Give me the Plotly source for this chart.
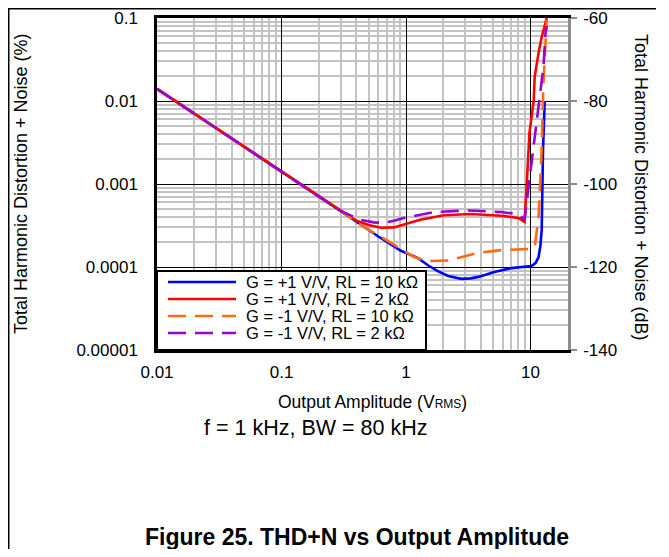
import plotly.graph_objects as go
import math

# ---------------- data ----------------
blue_x = [0.01, 0.03, 0.1, 0.3, 0.6, 0.91, 1.25, 1.5, 1.8, 2.18, 2.78, 3.3, 3.81, 5.13, 7.03, 10.2, 11.0, 11.6, 12.0, 12.3, 12.6, 12.8, 13.0]
blue_y = [0.014, 0.0047, 0.0014, 0.00047, 0.000233, 0.000157, 0.000128, 0.000105, 0.000089, 0.000078, 0.000072, 0.000073, 0.000076, 0.000087, 0.000097, 0.000103, 0.000112, 0.000132, 0.00018, 0.00028, 0.0026, 0.0055, 0.01]

red_x = [0.01, 0.03, 0.1, 0.3, 0.4, 0.5, 0.63, 0.8, 1.0, 1.3, 1.7, 2.02, 3.3, 5.84, 8.0, 8.95, 9.3, 9.8, 10.6, 10.8, 11.6, 12.3, 13.5]
red_y = [0.014, 0.0047, 0.0014, 0.00047, 0.00036, 0.00032, 0.000297, 0.0003, 0.00033, 0.00037, 0.0004, 0.00042, 0.000435, 0.000415, 0.00039, 0.00035, 0.00092, 0.0041, 0.01, 0.0195, 0.038, 0.059, 0.1]

orange_x = [0.01, 0.03, 0.1, 0.3, 0.5, 0.665, 0.8, 1.0, 1.16, 1.5, 2.18, 3.81, 5.84, 9.64, 10.8, 11.6, 12.3, 12.7, 13.2, 13.5]
orange_y = [0.014, 0.0047, 0.0014, 0.00047, 0.00028, 0.00022, 0.000185, 0.000152, 0.000132, 0.000118, 0.00012, 0.000148, 0.00016, 0.000165, 0.000173, 0.0004, 0.0026, 0.0165, 0.066, 0.095]

purple_x = [0.01, 0.03, 0.1, 0.3, 0.434, 0.55, 0.65, 0.8, 0.96, 1.3, 1.68, 3.16, 5.84, 8.0, 8.95, 9.64, 10.8, 11.8, 12.7, 13.2, 13.5]
purple_y = [0.014, 0.0047, 0.0014, 0.00047, 0.00037, 0.000345, 0.00034, 0.00036, 0.00039, 0.00043, 0.00046, 0.00048, 0.00046, 0.00043, 0.00037, 0.00092, 0.0034, 0.01, 0.0257, 0.066, 0.08]

series_names = ["G = +1 V/V, RL = 10 k\u03a9", "G = +1 V/V, RL = 2 k\u03a9",
                "G = -1 V/V, RL = 10 k\u03a9", "G = -1 V/V, RL = 2 k\u03a9"]

x_tickvals = [0.01, 0.1, 1, 10]
x_ticktext = ["0.01", "0.1", "1", "10"]
y_tickvals = [0.1, 0.01, 0.001, 0.0001, 0.00001]
y_ticktext = ["0.1", "0.01", "0.001", "0.0001", "0.00001"]
y2_tickvals = [-60, -80, -100, -120, -140]
y2_ticktext = ["-60", "-80", "-100", "-120", "-140"]
x_range = [0.01, 20]
y_range = [0.00001, 0.1]
y2_range = [-140, -60]

# ---------------- layout geometry ----------------
OFF = 8                      # default page body margin
W, H = 653, 541
L, T = 149, 10
R = W - (568 - OFF)
B = H - (350 - OFF)
PW, PH = W - L - R, H - T - B
FONT = "Liberation Sans, Arial, Helvetica, sans-serif"

def px(xr):
    return (xr - OFF - L) / PW

def py(yr):
    return (H - B - (yr - OFF)) / PH

colors = ["#0000ff", "#ff0000", "#ff6a10", "#9a00d0"]
dashes = ["solid", "solid", "18px,9px", "18px,9px"]
data = [(blue_x, blue_y), (red_x, red_y), (orange_x, orange_y), (purple_x, purple_y)]

fig = go.Figure()
for (xs, ys), c, d, n in zip(data, colors, dashes, series_names):
    fig.add_trace(go.Scatter(x=xs, y=ys, mode="lines", name=n,
                             line=dict(color=c, width=2.6, dash=d),
                             showlegend=False, xaxis="x", yaxis="y"))

# invisible trace to activate the dB axis
fig.add_trace(go.Scatter(x=x_range, y=y2_range, mode="lines", yaxis="y2",
                         line=dict(color="rgba(0,0,0,0)"), showlegend=False,
                         hoverinfo="skip"))

minor_x = [m * 10 ** e for e in range(-2, 2) for m in range(2, 10) if m * 10 ** e <= 20]
minor_y = [m * 10 ** e for e in range(-5, -1) for m in range(2, 10)]

fig.update_layout(
    width=W, height=H,
    margin=dict(l=L, r=R, t=T, b=B, autoexpand=False),
    paper_bgcolor="white", plot_bgcolor="white",
    font=dict(family=FONT, size=17, color="black"),
    showlegend=False,
    xaxis=dict(type="log", range=[math.log10(x_range[0]), math.log10(x_range[1])],
               tickmode="array", tickvals=x_tickvals, ticktext=x_ticktext,
               showgrid=True, gridcolor="#000000", gridwidth=1,
               minor=dict(tickmode="array", tickvals=minor_x, showgrid=True,
                          gridcolor="#c3c3c3", gridwidth=2, ticks=""),
               showline=True, linecolor="black", linewidth=2.5, mirror=True,
               ticks="", ticklabelstandoff=5, zeroline=False,
               tickfont=dict(size=17)),
    yaxis=dict(type="log", range=[math.log10(y_range[0]), math.log10(y_range[1])],
               tickmode="array", tickvals=y_tickvals, ticktext=y_ticktext,
               showgrid=True, gridcolor="#000000", gridwidth=1,
               minor=dict(tickmode="array", tickvals=minor_y, showgrid=True,
                          gridcolor="#c3c3c3", gridwidth=2, ticks=""),
               showline=True, linecolor="black", linewidth=2.5, mirror=False,
               ticks="", ticklabelstandoff=13, zeroline=False,
               tickfont=dict(size=17)),
    yaxis2=dict(overlaying="y", side="right", anchor="x", range=y2_range,
                tickmode="array", tickvals=y2_tickvals, ticktext=y2_ticktext,
                showgrid=False, zeroline=False,
                showline=True, linecolor="#8c8c8c", linewidth=2.5,
                ticks="outside", ticklen=6, tickwidth=1.5, tickcolor="#8c8c8c",
                ticklabelstandoff=3, tickfont=dict(size=17)),
)

shapes = []
# outer frame lines (top and left)
shapes.append(dict(type="line", xref="paper", yref="paper", x0=px(OFF), x1=px(656),
                   y0=py(OFF + 0.75), y1=py(OFF + 0.75), line=dict(color="black", width=1.5)))
shapes.append(dict(type="line", xref="paper", yref="paper", x0=px(OFF + 0.75), x1=px(OFF + 0.75),
                   y0=py(OFF), y1=py(560), line=dict(color="black", width=1.5)))
# legend box
shapes.append(dict(type="rect", xref="paper", yref="paper", x0=px(157), x1=px(426),
                   y0=py(350), y1=py(271), fillcolor="white",
                   line=dict(color="black", width=2), layer="above"))
annotations = []
row_y = [282, 299, 316, 333]
for ry, c, d, n in zip(row_y, colors, dashes, series_names):
    shapes.append(dict(type="line", xref="paper", yref="paper", x0=px(168), x1=px(236),
                       y0=py(ry), y1=py(ry), layer="above",
                       line=dict(color=c, width=2.6, dash=d)))
    annotations.append(dict(text=n, xref="paper", yref="paper", x=px(244), y=py(ry),
                            xanchor="left", yanchor="middle", showarrow=False,
                            font=dict(size=16.5, family=FONT)))

# axis titles and captions
annotations += [
    dict(text="Total Harmonic Distortion + Noise (%)", xref="paper", yref="paper",
         x=px(21), y=py(184), textangle=-90, showarrow=False,
         xanchor="center", yanchor="middle", font=dict(size=18, family=FONT)),
    dict(text="Total Harmonic Distortion + Noise (dB)", xref="paper", yref="paper",
         x=px(641), y=py(187), textangle=90, showarrow=False,
         xanchor="center", yanchor="middle", font=dict(size=18, family=FONT)),
    dict(text="Output Amplitude (V<span style='font-size:12px'>RMS</span>)",
         xref="paper", yref="paper", x=px(372), y=py(402), showarrow=False,
         xanchor="center", yanchor="middle", font=dict(size=17.5, family=FONT)),
    dict(text="f = 1 kHz, BW = 80 kHz", xref="paper", yref="paper",
         x=px(315), y=py(428), showarrow=False,
         xanchor="center", yanchor="middle", font=dict(size=21.5, family=FONT)),
    dict(text="<b>Figure 25. THD+N vs Output Amplitude</b>", xref="paper", yref="paper",
         x=px(357), y=py(537), showarrow=False,
         xanchor="center", yanchor="middle", font=dict(size=23, family=FONT)),
]

fig.update_layout(shapes=shapes, annotations=annotations)
fig.write_html("out.html")
